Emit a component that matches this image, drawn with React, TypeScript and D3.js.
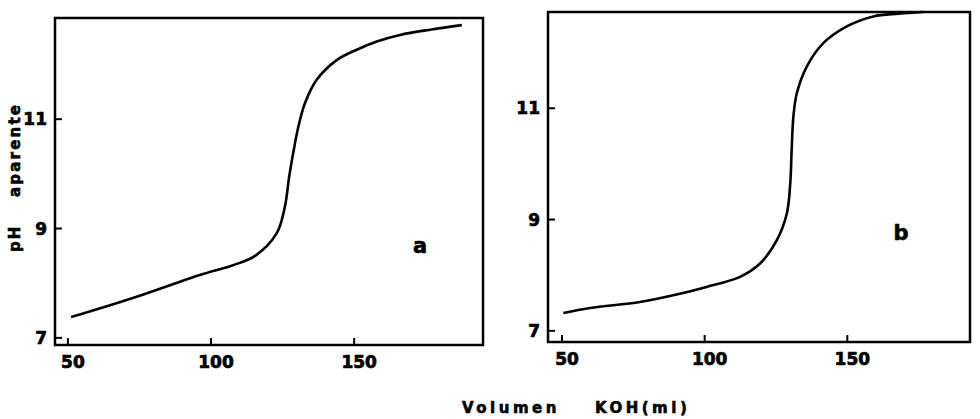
import React from "react";
import * as d3 from "d3";

// ---- data ----
const xTicks = [50, 100, 150];
const yTicks = [7, 9, 11];

const volA = [51.1, 72.7, 96.1, 107.7, 115.4, 122.9, 125.8, 127.3, 128.7, 130.5, 132.8, 136.9, 143.9, 150.9, 157.9, 166, 177, 187.6];
const phA = [7.38, 7.73, 8.15, 8.33, 8.5, 8.91, 9.4, 9.95, 10.38, 10.86, 11.29, 11.72, 12.08, 12.27, 12.42, 12.54, 12.64, 12.72];

const volB = [50.5, 59.8, 77.3, 89.0, 100.7, 112.4, 119.4, 125.3, 128.8, 130.0, 130.5, 131.1, 132.3, 135.8, 141.6, 149.8, 159.1, 168, 176.5];
const phB = [7.32, 7.41, 7.52, 7.64, 7.79, 7.97, 8.21, 8.63, 9.11, 9.65, 10.25, 10.85, 11.27, 11.75, 12.17, 12.47, 12.65, 12.7, 12.73];

const FONT = "'DejaVu Sans', sans-serif";

type PanelProps = {
  left: number; right: number; top: number; bottom: number;
  xDom: [number, number]; yDom: [number, number];
  vols: number[]; phs: number[];
  tag: string; tagX: number; tagY: number; tagSize: number;
  yLabelEnd: number; xLabelY: number;
};

function Panel(p: PanelProps) {
  const x = d3.scaleLinear().domain(p.xDom).range([p.left, p.right]);
  const y = d3.scaleLinear().domain(p.yDom).range([p.bottom, p.top]);
  const pts: [number, number][] = p.vols.map((v, i) => [v, p.phs[i]]);
  const line = d3
    .line<[number, number]>()
    .x((d) => x(d[0]))
    .y((d) => y(d[1]))
    .curve(d3.curveCatmullRom.alpha(0.5));
  return (
    <g>
      <rect x={p.left} y={p.top} width={p.right - p.left} height={p.bottom - p.top}
        fill="none" stroke="#000" strokeWidth={2.5} />
      {xTicks.map((t) => (
        <g key={"x" + t}>
          <line x1={x(t)} x2={x(t)} y1={p.bottom} y2={p.bottom - 7} stroke="#000" strokeWidth={2} />
          <text x={x(t) + 5} y={p.xLabelY} textAnchor="middle" fontFamily={FONT}
            fontWeight="bold" fontSize={17} stroke="#000" strokeWidth={0.7}>{t}</text>
        </g>
      ))}
      {yTicks.map((t) => (
        <g key={"y" + t}>
          <line x1={p.left} x2={p.left + 7} y1={y(t)} y2={y(t)} stroke="#000" strokeWidth={2} />
          <text x={p.yLabelEnd} y={y(t)} dy="0.36em" textAnchor="end" fontFamily={FONT}
            fontWeight="bold" fontSize={17} stroke="#000" strokeWidth={0.7}>{t}</text>
        </g>
      ))}
      <path d={line(pts) || ""} fill="none" stroke="#000" strokeWidth={2.6} />
      <text x={p.tagX} y={p.tagY} textAnchor="middle" fontFamily={FONT}
        fontWeight="bold" fontSize={p.tagSize} stroke="#000" strokeWidth={0.6}>{p.tag}</text>
    </g>
  );
}

export default function App() {
  return (
    <svg width={980} height={419} style={{ position: "absolute", left: 0, top: 0, background: "#fff" }}>
      <rect x={0} y={0} width={980} height={419} fill="#fff" />
      <Panel left={55} right={483} top={18} bottom={345}
        xDom={[45.5, 195]} yDom={[6.87, 12.85]}
        vols={volA} phs={phA}
        tag="a" tagX={420} tagY={253} tagSize={21}
        yLabelEnd={47} xLabelY={368} />
      <Panel left={548} right={970} top={12} bottom={342}
        xDom={[45.1, 193]} yDom={[6.8, 12.73]}
        vols={volB} phs={phB}
        tag="b" tagX={901} tagY={240} tagSize={21}
        yLabelEnd={540} xLabelY={365} />
      <g fontFamily={FONT} fontWeight="bold" fontSize={15} stroke="#000" strokeWidth={0.6}>
        <text transform="translate(20,252) rotate(-90)" letterSpacing={2}>pH</text>
        <text transform="translate(20,197) rotate(-90)" letterSpacing={2.2}>aparente</text>
        <text x={462} y={413} letterSpacing={3.5}>Volumen</text>
        <text x={595} y={413} letterSpacing={3.5}>KOH(ml)</text>
      </g>
    </svg>
  );
}
